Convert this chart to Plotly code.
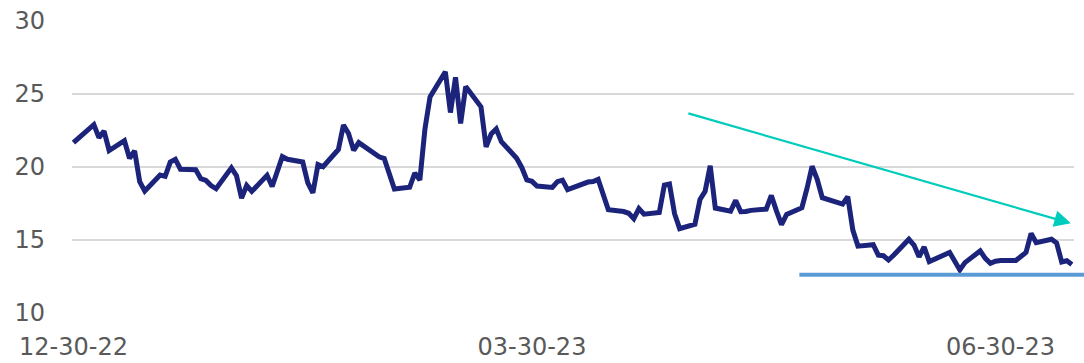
import plotly.graph_objects as go
from datetime import datetime

# ---- data -------------------------------------------------------------
dates = [
    "2022-12-30",
    "2023-01-03", "2023-01-04", "2023-01-05", "2023-01-06", "2023-01-09", "2023-01-10",
    "2023-01-11", "2023-01-12", "2023-01-13", "2023-01-16", "2023-01-17", "2023-01-18",
    "2023-01-19", "2023-01-20", "2023-01-23", "2023-01-24", "2023-01-25", "2023-01-26",
    "2023-01-27", "2023-01-30", "2023-01-31",
    "2023-02-01", "2023-02-02", "2023-02-03", "2023-02-06", "2023-02-07", "2023-02-08",
    "2023-02-09", "2023-02-10", "2023-02-13", "2023-02-14", "2023-02-15", "2023-02-16",
    "2023-02-17", "2023-02-20", "2023-02-21", "2023-02-22", "2023-02-23", "2023-02-24",
    "2023-02-27", "2023-02-28",
    "2023-03-01", "2023-03-02", "2023-03-03", "2023-03-06", "2023-03-07", "2023-03-08",
    "2023-03-09", "2023-03-10", "2023-03-13", "2023-03-14", "2023-03-15", "2023-03-16",
    "2023-03-17", "2023-03-20", "2023-03-21", "2023-03-22", "2023-03-23", "2023-03-24",
    "2023-03-27", "2023-03-28", "2023-03-29", "2023-03-30", "2023-03-31",
    "2023-04-03", "2023-04-04", "2023-04-05", "2023-04-06", "2023-04-10", "2023-04-11",
    "2023-04-12", "2023-04-13", "2023-04-14", "2023-04-17", "2023-04-18", "2023-04-19",
    "2023-04-20", "2023-04-21", "2023-04-24", "2023-04-25", "2023-04-26", "2023-04-27",
    "2023-04-28",
    "2023-05-01", "2023-05-02", "2023-05-03", "2023-05-04", "2023-05-05", "2023-05-08",
    "2023-05-09", "2023-05-10", "2023-05-11", "2023-05-12", "2023-05-15", "2023-05-16",
    "2023-05-17", "2023-05-18", "2023-05-19", "2023-05-22", "2023-05-23", "2023-05-24",
    "2023-05-25", "2023-05-26", "2023-05-30", "2023-05-31",
    "2023-06-01", "2023-06-02", "2023-06-05", "2023-06-06", "2023-06-07", "2023-06-08",
    "2023-06-09", "2023-06-12", "2023-06-13", "2023-06-14", "2023-06-15", "2023-06-16",
    "2023-06-20", "2023-06-21", "2023-06-22", "2023-06-23", "2023-06-26", "2023-06-27",
    "2023-06-28", "2023-06-29", "2023-06-30",
    "2023-07-03", "2023-07-05", "2023-07-06", "2023-07-07", "2023-07-10", "2023-07-11",
    "2023-07-12", "2023-07-13", "2023-07-14",
]
values = [
    21.67,
    22.90, 22.01, 22.46, 21.13, 21.80, 20.60,
    21.10, 19.00, 18.35, 19.45, 19.36, 20.34,
    20.52, 19.85, 19.81, 19.20, 19.08, 18.73,
    18.51, 19.94, 19.40,
    17.87, 18.73, 18.33, 19.43, 18.66, 19.63,
    20.71, 20.53, 20.34, 18.91, 18.23, 20.17,
    20.02, 21.20, 22.87, 22.29, 21.14, 21.67,
    20.95, 20.70,
    20.58, 19.59, 18.49, 18.61, 19.59, 19.11,
    22.61, 24.80, 26.52, 23.73, 26.14, 22.99,
    25.51, 24.12, 21.38, 22.26, 22.61, 21.74,
    20.60, 19.97, 19.12, 19.02, 18.70,
    18.60, 19.00, 19.10, 18.45, 18.97, 19.00,
    19.15, 18.10, 17.07, 16.95, 16.83, 16.46,
    17.15, 16.77, 16.89, 18.76, 18.84, 16.80,
    15.78,
    16.08, 17.78, 18.34, 20.09, 17.19, 16.98,
    17.71, 16.94, 16.95, 17.03, 17.12, 18.05,
    17.00, 16.05, 16.75, 17.21, 18.53, 20.05,
    19.15, 17.90, 17.46, 17.97,
    15.68, 14.58, 14.68, 13.96, 13.92, 13.63,
    13.95, 15.05, 14.65, 13.85, 14.52, 13.52,
    14.15, 13.60, 12.95, 13.45, 14.25, 13.74,
    13.40, 13.55, 13.60,
    13.60, 14.15, 15.45, 14.82, 15.05, 14.80,
    13.50, 13.58, 13.32,
]

tick_dates = ["2022-12-30", "2023-03-30", "2023-06-30"]
tick_labels = ["12-30-22", "03-30-23", "06-30-23"]
y_ticks = [10, 15, 20, 25, 30]

# annotation levels
trend_start = ("2023-04-29 10:00", 23.70)
trend_end = ("2023-07-13 19:00", 16.14)
support_level = 12.62
support_start = "2023-05-21 12:00"

# ---- axes ranges ------------------------------------------------------
x_range = ["2022-12-29 17:00", "2023-07-14 10:00"]
y_range = [10, 30]


def _dt(s):
    return datetime.fromisoformat(s)


def x_to_paper(s):
    a, b = _dt(x_range[0]), _dt(x_range[1])
    return (_dt(s) - a) / (b - a)


def y_to_paper(v):
    return (v - y_range[0]) / (y_range[1] - y_range[0])


LINE = "#1b237b"
TEAL = "#00ccbb"
BLUE = "#5b9bd5"
GRAY = "#595959"
FONT = "DejaVu Sans"

fig = go.Figure()
fig.add_trace(go.Scatter(
    x=dates, y=values, mode="lines",
    line=dict(color=LINE, width=5),
    hoverinfo="skip", showlegend=False,
))

fig.add_shape(
    type="line", xref="paper", yref="paper",
    x0=x_to_paper(support_start), x1=1.01,
    y0=y_to_paper(support_level), y1=y_to_paper(support_level),
    line=dict(color=BLUE, width=4),
)

fig.add_annotation(
    x=trend_end[0], y=trend_end[1], xref="x", yref="y",
    ax=trend_start[0], ay=trend_start[1], axref="x", ayref="y",
    text="", showarrow=True, arrowhead=2, arrowsize=1.5,
    arrowwidth=2.2, arrowcolor=TEAL,
)

fig.update_layout(
    width=1084, height=363,
    margin=dict(l=72, r=10, t=21, b=50, autoexpand=False),
    paper_bgcolor="white", plot_bgcolor="white",
    font=dict(family=FONT, size=24, color=GRAY),
    showlegend=False,
)
fig.update_xaxes(
    type="date", range=x_range, automargin=False,
    tickvals=tick_dates, ticktext=tick_labels,
    showgrid=False, zeroline=False, showline=False, ticks="",
    ticklabelstandoff=17,
    tickfont=dict(family=FONT, size=24, color=GRAY),
)
fig.update_yaxes(
    range=y_range, tickvals=y_ticks, automargin=False,
    showgrid=True, gridcolor="#d9d9d9", gridwidth=1.5,
    zeroline=False, showline=False, ticks="",
    ticklabelstandoff=26,
    tickfont=dict(family=FONT, size=24, color=GRAY),
)

fig.write_html("out.html")
